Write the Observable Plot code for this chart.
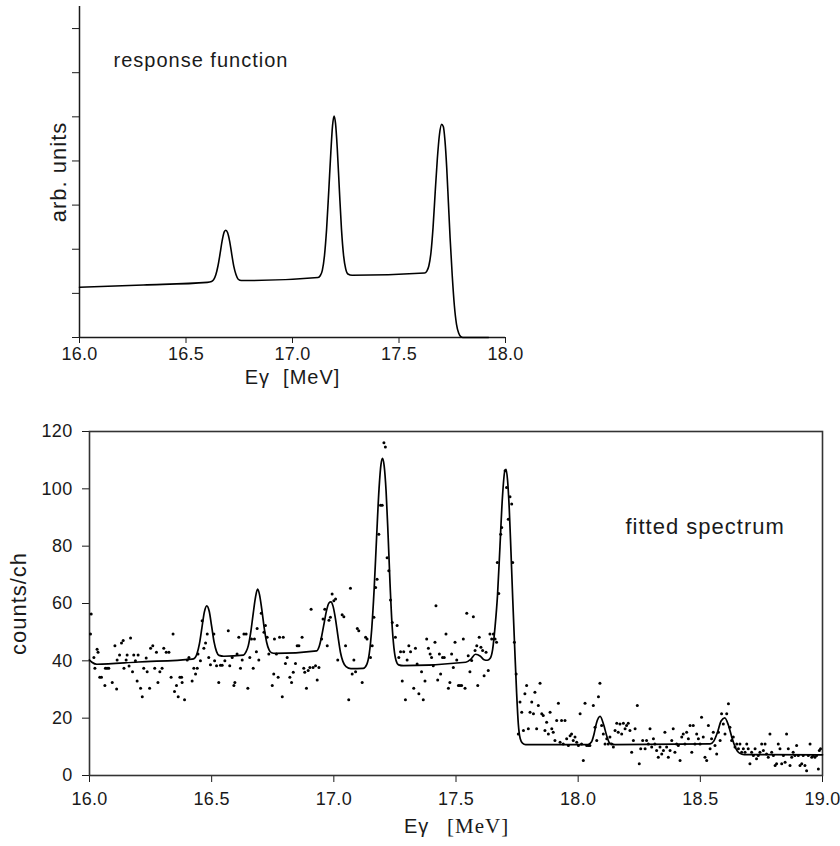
<!DOCTYPE html>
<html>
<head>
<meta charset="utf-8">
<script src="https://cdn.jsdelivr.net/npm/d3@7"></script>
<script src="https://cdn.jsdelivr.net/npm/@observablehq/plot@0.6"></script>
<style>
  html, body { margin: 0; padding: 0; background: #fff; }
  #chart { width: 840px; height: 846px; }
  #chart svg { display: block; }
</style>
</head>
<body>
<div id="chart"></div>
<script>
// ---------- top panel: response function ----------
const respE = [16.00,16.30,16.60,16.62,16.63,16.64,16.65,16.66,16.67,16.68,16.687,16.695,16.705,16.715,16.725,16.735,16.745,16.76,16.80,
  17.12,17.13,17.14,17.15,17.16,17.17,17.18,17.188,17.195,17.202,17.21,17.22,17.23,17.24,17.25,17.26,17.28,
  17.62,17.63,17.64,17.65,17.66,17.67,17.68,17.69,17.70,17.708,17.716,17.724,17.732,17.74,17.75,17.76,17.77,17.78,17.79,17.80,17.92];
const respA = [1.14,1.19,1.25,1.27,1.31,1.42,1.62,1.90,2.20,2.40,2.43,2.38,2.18,1.88,1.60,1.42,1.32,1.29,1.29,
  1.36,1.40,1.52,1.85,2.45,3.30,4.20,4.80,5.02,4.85,4.30,3.35,2.45,1.85,1.55,1.44,1.41,
  1.46,1.50,1.62,1.92,2.50,3.30,4.05,4.60,4.83,4.78,4.45,3.85,3.05,2.25,1.40,0.72,0.30,0.10,0.02,0,0];
const topXTicks = [16.0, 16.5, 17.0, 17.5, 18.0];
const topYTicks = [0, 1, 2, 3, 4, 5, 6, 7];

// ---------- bottom panel: fitted spectrum ----------
const fitE = [16.000,16.010,16.030,16.200,16.420,16.430,16.440,16.450,16.460,16.470,16.480,16.490,16.500,16.510,16.520,16.530,16.550,
  16.630,16.640,16.650,16.660,16.670,16.680,16.688,16.696,16.705,16.715,16.725,16.735,16.745,16.760,
  16.930,16.940,16.950,16.960,16.970,16.980,16.988,16.997,17.007,17.017,17.027,17.037,17.050,17.070,17.120,
  17.135,17.145,17.155,17.165,17.175,17.185,17.193,17.199,17.206,17.214,17.222,17.230,17.238,17.246,17.254,17.265,17.285,
  17.540,17.560,17.580,17.600,17.615,17.628,17.640,17.650,17.660,17.670,17.680,17.690,17.700,17.705,17.711,17.718,17.725,17.732,17.740,17.748,17.755,17.763,17.772,17.785,
  18.040,18.055,18.065,18.075,18.090,18.105,18.118,18.130,18.150,
  18.540,18.555,18.570,18.585,18.600,18.615,18.630,18.645,18.660,18.680,19.000];
const fitC = [40.3,39.5,38.8,39.6,40.6,40.9,42.5,46.0,51.5,57.0,59.2,57.3,52.0,46.5,43.2,41.9,41.6,
  42.0,43.0,45.3,50.0,56.5,62.5,65.0,63.0,58.0,51.5,46.5,43.8,42.8,42.6,
  43.5,45.0,48.5,53.0,57.5,60.2,60.6,59.0,54.5,48.5,43.0,39.8,38.0,37.3,37.4,
  38.8,42.5,51.0,65.0,83.0,100.0,108.5,110.6,108.0,99.0,84.0,67.0,53.0,44.5,40.3,38.6,38.3,
  39.5,40.5,42.3,41.6,40.4,40.2,40.9,44.0,52.0,63.0,80.0,97.0,106.3,106.8,103.0,93.0,78.0,62.0,45.0,29.0,18.0,12.8,11.3,10.8,
  10.8,11.8,14.5,18.3,20.6,17.5,13.5,11.2,10.8,
  11.0,12.0,15.0,19.0,20.1,17.5,13.0,9.5,7.8,7.3,7.2];

const dataE = [16.007,16.004,16.018,16.022,16.031,16.035,16.042,16.049,16.063,16.065,16.072,16.079,16.093,16.104,16.111,16.113,16.123,16.131,16.138,16.141,
  16.150,16.154,16.162,16.168,16.176,16.181,16.188,16.195,16.199,16.209,16.216,16.222,16.232,16.236,16.246,16.250,16.259,16.267,16.274,16.280,
  16.288,16.297,16.304,16.314,16.325,16.334,16.342,16.348,16.356,16.363,16.370,16.377,16.379,16.389,16.400,16.407,16.420,16.427,16.434,16.441,
  16.444,16.454,16.461,16.468,16.475,16.482,16.488,16.495,16.509,16.512,16.520,16.529,16.536,16.543,16.554,16.568,16.574,16.584,16.591,16.595,
  16.604,16.611,16.618,16.625,16.632,16.641,16.648,16.656,16.663,16.670,16.675,16.683,16.686,16.693,16.703,16.714,16.720,16.727,16.734,16.748,
  16.754,16.757,16.765,16.772,16.778,16.789,16.793,16.802,16.809,16.820,16.827,16.834,16.843,16.850,16.857,16.870,16.877,16.881,16.888,16.895,
  16.902,16.907,16.915,16.925,16.932,16.939,16.950,16.956,16.963,16.973,16.980,16.986,16.993,17.000,17.007,17.016,17.034,17.041,17.048,17.061,
  17.068,17.075,17.082,17.089,17.096,17.102,17.116,17.130,17.136,17.150,17.157,17.164,17.171,17.177,17.184,17.191,17.198,17.205,17.211,17.218,
  17.225,17.232,17.239,17.252,17.259,17.266,17.273,17.280,17.286,17.293,17.300,17.307,17.314,17.327,17.334,17.341,17.348,
  17.359,17.366,17.373,17.380,17.387,17.394,17.400,17.407,17.414,17.418,17.425,17.432,17.437,17.445,17.452,17.459,17.469,17.475,17.482,17.489,
  17.496,17.503,17.510,17.516,17.523,17.530,17.537,17.544,17.550,17.557,17.564,17.571,17.578,17.585,17.589,17.595,17.602,17.609,17.615,17.623,
  17.632,17.639,17.646,17.653,17.660,17.666,17.669,17.675,17.683,17.687,17.701,17.707,17.714,17.721,17.728,17.732,17.739,17.746,17.755,17.762,
  17.769,17.776,17.782,17.789,17.796,17.803,17.810,17.817,17.823,17.830,17.837,17.844,17.851,17.857,17.864,17.871,17.878,17.885,17.892,17.898,
  17.905,17.912,17.919,17.926,17.932,17.939,17.946,17.953,17.960,17.967,17.973,17.980,17.987,17.994,18.001,18.008,18.014,18.021,18.028,18.035,
  18.042,18.048,18.062,18.069,18.076,18.083,18.089,18.096,18.103,18.110,18.117,18.123,18.130,18.137,18.144,18.151,18.158,18.164,18.171,18.178,
  18.185,18.192,18.198,18.205,18.212,18.219,18.226,18.233,18.242,18.250,18.256,18.264,18.274,18.280,18.287,18.294,18.301,18.308,18.314,18.321,
  18.328,18.335,18.342,18.349,18.355,18.362,18.369,18.376,18.383,18.389,18.396,18.403,18.410,18.417,18.424,18.430,18.437,18.444,18.451,18.458,
  18.465,18.471,18.478,18.485,18.492,18.499,18.505,18.512,18.519,18.526,18.533,18.540,18.546,18.553,18.560,18.567,18.574,18.581,18.587,18.594,
  18.601,18.608,18.615,18.621,18.628,18.635,18.642,18.649,18.656,18.662,18.669,18.676,18.683,18.690,18.696,18.703,18.710,18.717,18.724,18.730,
  18.737,18.744,18.751,18.758,18.765,18.771,18.778,18.785,18.792,18.799,18.806,18.812,18.819,18.826,18.833,18.840,18.847,18.853,18.860,18.867,
  18.874,18.880,18.887,18.894,18.901,18.908,18.915,18.921,18.928,18.935,18.942,18.949,18.956,18.962,18.969,18.976,18.983,18.987,18.992];
const dataC = [56.3,49.4,41.2,37.4,44,43,34.3,34.3,31.4,37.4,37.4,37.4,32.4,45.3,30.2,40.3,42,46.2,47.1,37.4,
  40.3,42,38.2,48,36.2,42,40,33,42,30.4,27.5,37.4,41,36.2,30.4,44.4,45.3,37.4,43,32.4,
  36.2,37.4,44.4,43,43,34.3,49.4,29.3,31.4,27.5,34.3,34.3,32.4,26.4,40.3,41.2,33,37.4,35.4,37.4,
  42.4,40,54,44.4,46.2,49.4,41.2,38.6,49.4,40,38.3,32.4,38.5,38.5,40,50.5,38.3,41.2,31.4,32.4,
  42.4,48.2,37.4,40.3,49.4,49.4,30.4,41.2,47.6,37.4,47.6,43.2,51.3,40.3,56.6,50,52.3,48.2,42.4,31.4,
  35.4,47.6,42.4,34.3,48.2,27.5,48.2,39.1,41.2,34.3,32.4,36,39.1,45.3,45.3,48.2,37.4,36,30.4,36.6,
  37.7,58,37.7,38.3,33.3,37.7,47.6,54.6,58,45.3,54.2,55.2,63.3,61,61.6,40.3,56.1,55.4,45.3,26.4,
  65.3,35.4,40.3,36.2,51.3,50.5,32.4,48.2,47.6,41.2,45.3,55.2,65.6,68.5,84.2,94.3,94.3,116.1,114.6,76,
  71.4,61.2,53.4,48.2,52.3,41.2,43.2,33,43.2,26.4,40.3,45.3,43.2,30.4,44.4,38.9,28.5,
  36.2,26.4,33,47.6,44.4,42.4,41.2,38.3,46.5,59.2,33.3,42.4,35.4,41.2,41.2,49.4,30.4,32.4,42.4,37.7,
  46.5,40.3,31.4,31.4,31.4,47.6,30.4,56.6,41.8,36.2,40.1,55.4,43.6,45.3,31.4,48.2,44.7,43.6,34.8,43,
  36.6,49.4,47.6,49.4,47.6,46.5,74.3,63.5,84.2,86.5,106.3,100.5,89.4,97.2,94.7,74.3,46.5,35.4,14.5,25.6,
  22.1,15.7,28.5,31.4,16.3,22.1,25.6,21.5,29,16.3,24.4,32.2,21.5,20.9,15.7,18.6,14.5,22.1,16.3,15.1,
  12.2,19.2,25.2,11.6,19.2,11,19.2,12.8,10.5,13.9,14.5,12.2,13.4,11.6,10.5,21.5,11,5.2,25.2,10.5,
  10.5,10.5,24.4,16.8,12.2,27.5,32.2,17.4,14.5,11,12.8,11,13.4,11,9.9,15.7,18.2,15.1,18,14.5,
  18.2,16.3,17.4,18.2,15.7,8.1,12.2,16.3,24.4,4.1,9.3,12.2,9.3,12.2,11,16.3,9.9,12.8,11,8.7,
  6.4,9.9,7.5,8.7,15.1,9.9,6.4,8.7,12.2,16.3,8.1,11,10.5,5.2,13.4,14.5,11,15.1,12.8,17.4,
  8.1,17.4,11,14.5,12.8,11,20.3,13.4,6.4,5.2,17.4,9.3,12.8,15.1,10.5,7.5,15.1,12.2,21.5,18,
  14.5,21.5,25,16.8,12.2,13.4,9.9,11,9.3,11,8.1,9.3,8.1,11,9.3,4.1,8.1,7,9.3,5.8,
  7,8.1,11,8.7,11,7.5,6.4,14.5,8.1,7,3.5,4.1,11,9.3,4.1,7,4.6,14.5,9.3,3.5,
  6.4,8.1,7,10.5,7,3.5,4.1,7,3.5,1.7,7,11,6.4,7,6.4,7,2.3,8.7,9.3];
const botXTicks = [16.0, 16.5, 17.0, 17.5, 18.0, 18.5, 19.0];
const botYTicks = [0, 20, 40, 60, 80, 100, 120];

const resp = respE.map((e, i) => ({e, a: respA[i]}));
const fit = fitE.map((e, i) => ({e, c: fitC[i]}));
const pts = dataE.map((e, i) => ({e, c: dataC[i]}));

const SANS = "'Liberation Sans', Arial, Helvetica, sans-serif";
const SERIF = "'Liberation Serif', 'Times New Roman', serif";
const INK = "#1a1a1a";

const topPlot = Plot.plot({
  width: 840, height: 395,
  marginLeft: 79, marginRight: 335, marginTop: 6, marginBottom: 58,
  style: {fontFamily: SANS, fontSize: "18px", color: INK, background: "#fff", letterSpacing: "0.3px"},
  x: {domain: [16, 18], ticks: topXTicks, tickFormat: d3.format(".1f"), tickSize: 6, tickPadding: 4, label: null},
  y: {domain: [0, 7.5], ticks: topYTicks, tickFormat: () => "", tickSize: 7, label: null},
  marks: [
    Plot.ruleX([16], {y1: 0, y2: 7.5, stroke: INK, strokeWidth: 1.5}),
    Plot.ruleY([0], {x1: 16, x2: 18, stroke: INK, strokeWidth: 1.5}),
    Plot.line(resp, {x: "e", y: "a", curve: "monotone-x", stroke: "#000", strokeWidth: 1.6}),
    Plot.text(["response function"], {frameAnchor: "top-left", textAnchor: "start", dx: 34, dy: 46, fontSize: 20, fill: INK}),
    Plot.text(["arb. units"], {frameAnchor: "left", textAnchor: "middle", rotate: -90, dx: -21, fontSize: 22, fill: INK}),
    Plot.text(["Eγ  [MeV]"], {frameAnchor: "bottom", textAnchor: "middle", dy: 46, fontSize: 20, fill: INK})
  ]
});

const botPlot = Plot.plot({
  width: 840, height: 451,
  marginLeft: 89, marginRight: 18, marginTop: 36, marginBottom: 71,
  style: {fontFamily: SANS, fontSize: "18px", color: INK, background: "#fff", letterSpacing: "0.3px"},
  x: {domain: [16, 19], ticks: botXTicks, tickFormat: d3.format(".1f"), tickSize: 7, tickPadding: 10, label: null},
  y: {domain: [0, 120], ticks: botYTicks, tickSize: 7, tickPadding: 10, label: null},
  marks: [
    Plot.frame({stroke: "#333", strokeWidth: 1.6}),
    Plot.dot(pts, {x: "e", y: "c", r: 1.5, fill: "#000", stroke: "none"}),
    Plot.line(fit, {x: "e", y: "c", curve: "monotone-x", stroke: "#000", strokeWidth: 1.7}),
    Plot.text(["fitted spectrum"], {frameAnchor: "top-left", textAnchor: "start", dx: 536, dy: 87, fontSize: 22, fill: INK}),
    Plot.text(["counts/ch"], {frameAnchor: "left", textAnchor: "middle", rotate: -90, dx: -71, fontSize: 22, fill: INK}),
    Plot.text(["Eγ"], {frameAnchor: "bottom", textAnchor: "start", dx: -52, dy: 57, fontSize: 20, fill: INK}),
    Plot.text(["[MeV]"], {frameAnchor: "bottom", textAnchor: "start", dx: -9, dy: 57, fontSize: 21, fontFamily: SERIF, fill: INK})
  ]
});

// wider letter spacing on the label texts (not on tick labels)
for (const svg of [topPlot, botPlot]) {
  d3.select(svg).selectAll("g[aria-label='text'] text").style("letter-spacing", "1px");
}

const root = document.getElementById("chart");
root.appendChild(topPlot);
root.appendChild(botPlot);
</script>
</body>
</html>
